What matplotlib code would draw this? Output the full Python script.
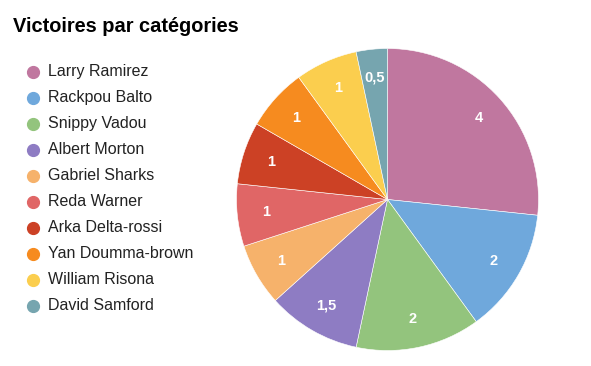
import matplotlib.pyplot as plt
from matplotlib.lines import Line2D

plt.rcParams['font.family'] = ['Liberation Sans', 'DejaVu Sans']

players = ["Larry Ramirez", "Rackpou Balto", "Snippy Vadou", "Albert Morton",
           "Gabriel Sharks", "Reda Warner", "Arka Delta-rossi", "Yan Doumma-brown",
           "William Risona", "David Samford"]
wins = [4, 2, 2, 1.5, 1, 1, 1, 1, 1, 0.5]
colors = ["#C0779F", "#6FA8DC", "#93C47D", "#8E7CC3", "#F6B26B",
          "#E06666", "#CC4125", "#F68B1F", "#FBCE4E", "#76A5AF"]

W, H = 591, 366
fig = plt.figure(figsize=(W / 100, H / 100), dpi=100)

# pie centre (387.5, 199.5) px, radius 151 px
cx, cy, r = 387.5, 199.5, 151
ax = fig.add_axes([(cx - r) / W, (H - cy - r) / H, 2 * r / W, 2 * r / H])


def fmt(v):
    return ("%g" % v).replace(".", ",")


wedges, texts = ax.pie(wins, colors=colors, startangle=90, counterclock=False,
                       labels=[fmt(v) for v in wins], labeldistance=0.81,
                       wedgeprops=dict(edgecolor="white", linewidth=0.4),
                       textprops=dict(color="white", fontsize=10.5, fontweight="bold",
                                      ha="center", va="center"))
for t in texts:
    t.set_ha("center")
ax.set_xlim(-1, 1)
ax.set_ylim(-1, 1)
ax.set_aspect("equal")
ax.axis("off")

fig.text(13 / W, 1 - 27 / H, "Victoires par catégories", fontsize=14.4,
         fontweight="bold", ha="left", va="center", color="#000000")

for i, (name, c) in enumerate(zip(players, colors)):
    y = 1 - (72 + 26 * i) / H
    fig.add_artist(Line2D([33 / W], [y], marker="o", markersize=8.5,
                          color=c, transform=fig.transFigure))
    fig.text(48 / W, y + 0.5 / H, name, fontsize=11.5, ha="left", va="center",
             color="#222222")

fig.savefig("out.png", dpi=100)
